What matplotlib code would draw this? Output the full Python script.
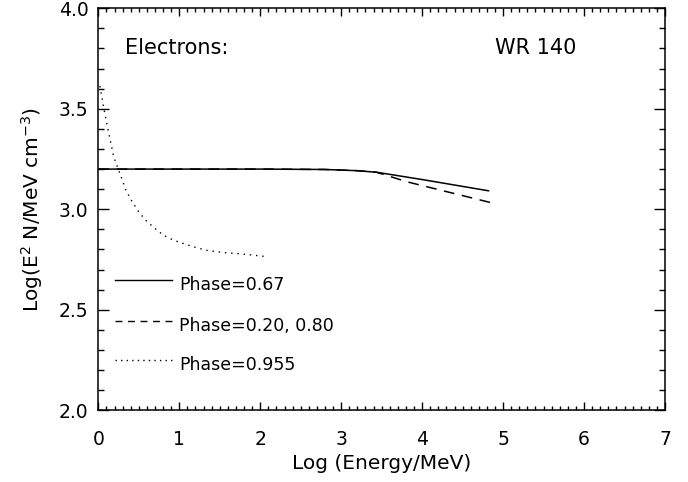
import numpy as np
import matplotlib.pyplot as plt
from matplotlib.ticker import MultipleLocator

# Phase=0.67 (solid)
x_solid = [0.0, 1.0, 2.0, 2.8, 3.2, 3.44, 4.0, 4.82]
y_solid = [3.200, 3.200, 3.200, 3.198, 3.192, 3.184, 3.148, 3.092]

# Phase=0.20, 0.80 (dashed)
x_dash = [0.0, 1.0, 2.0, 2.8, 3.2, 3.44, 3.81, 4.22, 4.88]
y_dash = [3.200, 3.200, 3.200, 3.198, 3.192, 3.184, 3.137, 3.096, 3.030]

# Phase=0.955 (dotted)
x_dot = [0.02, 0.06, 0.10, 0.145, 0.19, 0.24, 0.29, 0.34, 0.41, 0.49, 0.58,
         0.69, 0.80, 0.93, 1.07, 1.21, 1.36, 1.56, 1.77, 1.93, 2.09]
y_dot = [3.613, 3.52, 3.436, 3.348, 3.262, 3.207, 3.152, 3.096, 3.043, 2.993,
         2.947, 2.908, 2.872, 2.846, 2.827, 2.809, 2.794, 2.784, 2.778, 2.771,
         2.764]

legend_labels = ["Phase=0.67", "Phase=0.20, 0.80", "Phase=0.955"]
legend_y = [2.648, 2.444, 2.25]

fig = plt.figure(figsize=(6.88, 4.82), dpi=100)
ax = fig.add_axes([0.1429, 0.1488, 0.8237, 0.834])

ax.plot(x_solid, y_solid, color="black", lw=1.1)
ax.plot(x_dash, y_dash, color="black", lw=1.1, linestyle=(0, (7, 5)))
ax.plot(x_dot, y_dot, color="black", lw=1.0, linestyle=(0, (1, 3.5)))

# legend drawn in data coordinates like the IDL original
styles = ["-", (0, (5, 4)), (0, (1, 3))]
for lbl, ly, ls in zip(legend_labels, legend_y, styles):
    ax.plot([0.207, 0.906], [ly, ly], color="black", lw=1.0, linestyle=ls)
    ax.text(1.0, ly - 0.025, lbl, fontsize=12.5, va="center", ha="left")

ax.text(0.33, 3.8, "Electrons:", fontsize=15, va="center", ha="left")
ax.text(4.90, 3.8, "WR 140", fontsize=15, va="center", ha="left")

ax.set_xlim(0, 7)
ax.set_ylim(2.0, 4.0)
ax.xaxis.set_major_locator(MultipleLocator(1))
ax.xaxis.set_minor_locator(MultipleLocator(0.1))
ax.yaxis.set_major_locator(MultipleLocator(0.5))
ax.yaxis.set_minor_locator(MultipleLocator(0.1))
ax.yaxis.set_major_formatter(plt.FormatStrFormatter("%.1f"))

ax.tick_params(which="both", direction="in", top=True, right=True,
               labelsize=13.5, width=1.0)
ax.tick_params(axis="x", which="major", length=6, pad=14)
ax.tick_params(axis="x", which="minor", length=3)
ax.tick_params(axis="y", which="major", length=8, pad=7)
ax.tick_params(axis="y", which="minor", length=4)
for s in ax.spines.values():
    s.set_linewidth(1.1)

ax.set_xlabel("Log (Energy/MeV)", fontsize=14.5, labelpad=4)
ax.set_ylabel("Log(E$^2$ N/MeV cm$^{-3}$)", fontsize=14.5, labelpad=10)

fig.savefig("out.png", dpi=100)
